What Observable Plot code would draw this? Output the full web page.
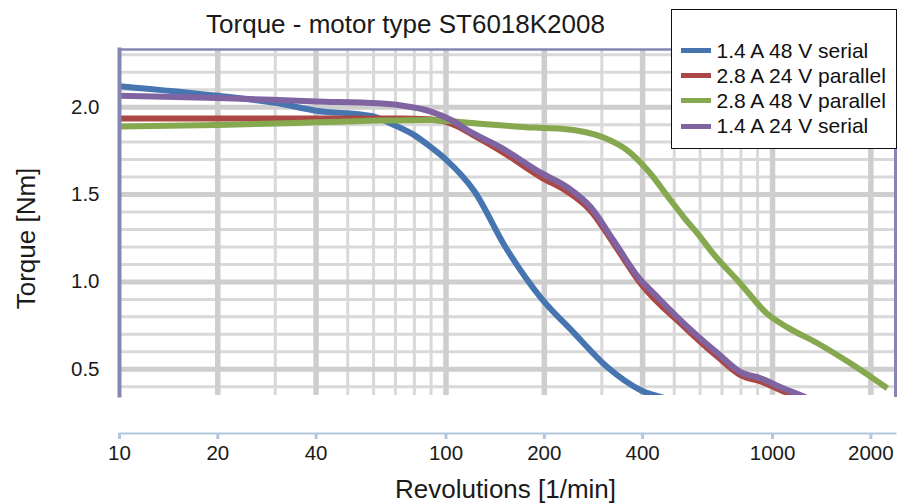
<!DOCTYPE html>
<html><head><meta charset="utf-8">
<script src="https://cdn.jsdelivr.net/npm/d3@7"></script>
<script src="https://cdn.jsdelivr.net/npm/@observablehq/plot@0.6"></script>
<style>
body{margin:0;background:#fff;font-family:"Liberation Sans",Arial,sans-serif;}
#wrap{position:relative;width:898px;height:504px;}
#legend{position:absolute;left:671px;top:9px;width:226px;height:140px;border:1.5px solid #111;background:#fff;box-sizing:border-box;}
.row{position:absolute;left:0;height:25px;display:flex;align-items:center;font-size:21px;color:#111;white-space:nowrap;}
.sw{width:30px;height:5px;margin-left:8.5px;margin-right:6px;}
</style></head><body><div id="wrap"><div id="legend"></div></div>
<script>
// ---- data ----
const title = "Torque - motor type ST6018K2008";
const xLabel = "Revolutions [1/min]";
const yLabel = "Torque [Nm]";
const seriesNames = ["1.4 A 48 V serial", "2.8 A 24 V parallel", "2.8 A 48 V parallel", "1.4 A 24 V serial"];
const seriesColors = ["#4675b0", "#ab4845", "#86a84e", "#8064a2"];

const rpmBlue    = [10, 20, 30, 40, 59, 69, 80, 90, 100, 122, 152, 195, 246, 313, 395, 480];
const torqueBlue = [2.12, 2.065, 2.025, 1.98, 1.95, 1.90, 1.84, 1.77, 1.70, 1.52, 1.20, 0.91, 0.71, 0.51, 0.38, 0.33];

const rpmRed    = [10, 20, 40, 60, 80, 97, 107, 120, 147, 195, 236, 278, 326, 395, 535, 680, 800, 920, 1060, 1220, 1300];
const torqueRed = [1.935, 1.935, 1.935, 1.935, 1.934, 1.922, 1.895, 1.845, 1.75, 1.60, 1.515, 1.405, 1.22, 0.99, 0.745, 0.57, 0.465, 0.43, 0.38, 0.33, 0.30];

const rpmGreen    = [10, 20, 40, 62, 90, 117, 186, 225, 304, 360, 415, 488, 535, 603, 646, 798, 963, 1111, 1373, 1732, 2247];
const torqueGreen = [1.889, 1.898, 1.913, 1.923, 1.927, 1.911, 1.883, 1.877, 1.826, 1.751, 1.637, 1.466, 1.37, 1.254, 1.18, 0.99, 0.818, 0.74, 0.649, 0.534, 0.391];

const rpmPurple    = [10, 20, 40, 62, 73, 90, 104, 117, 147, 195, 236, 278, 326, 395, 424, 535, 680, 800, 920, 1060, 1220, 1300];
const torquePurple = [2.066, 2.053, 2.033, 2.022, 2.01, 1.975, 1.925, 1.866, 1.77, 1.625, 1.54, 1.426, 1.237, 1.009, 0.951, 0.763, 0.591, 0.483, 0.449, 0.397, 0.351, 0.33];

const xTicks = [10, 20, 40, 100, 200, 400, 1000, 2000];
const xMajorGrid = [20, 40, 100, 200, 400, 1000, 2000];
const xMinorGrid = [30, 50, 60, 70, 80, 90, 300, 500, 600, 700, 800, 900];
const yTicks = [0.5, 1.0, 1.5, 2.0];
const yMajorGrid = [0.5, 1.0, 1.5, 2.0];
const yMinorGrid = [0.4, 0.6, 0.7, 0.8, 0.9, 1.1, 1.2, 1.3, 1.4, 1.6, 1.7, 1.8, 1.9, 2.1, 2.2, 2.3];
const xDomain = [10, 2380];
const yDomain = [0.35, 2.33];

// ---- build ----
const rpms = [rpmBlue, rpmRed, rpmGreen, rpmPurple];
const torques = [torqueBlue, torqueRed, torqueGreen, torquePurple];
const tables = rpms.map((r, i) => r.map((v, j) => ({rpm: v, torque: torques[i][j]})));

const frameColor = "#8686b2";
const axisBlue = "#b3c7df";
const textColor = "#1a1a1a";

const lines = tables.map((t, i) => Plot.line(t, {
  x: "rpm", y: "torque", stroke: seriesColors[i], strokeWidth: 6,
  curve: "monotone-x", clip: true, strokeLinejoin: "round", strokeLinecap: "butt"
}));

const chart = Plot.plot({
  width: 898, height: 504,
  marginLeft: 119, marginRight: 3, marginTop: 49, marginBottom: 109,
  style: {fontFamily: "Liberation Sans, Arial, sans-serif", background: "#fff", overflow: "visible", color: textColor},
  x: {type: "log", domain: xDomain},
  y: {domain: yDomain},
  marks: [
    Plot.ruleY(yMinorGrid, {stroke: "#d9d9d9", strokeWidth: 3}),
    Plot.ruleX(xMinorGrid, {stroke: "#d9d9d9", strokeWidth: 3}),
    Plot.ruleY(yMajorGrid, {stroke: "#cecece", strokeWidth: 5}),
    Plot.ruleX(xMajorGrid, {stroke: "#cecece", strokeWidth: 5.5}),
    ...lines,
    Plot.frame({anchor: "left", stroke: frameColor, strokeWidth: 4}),
    Plot.frame({anchor: "top", stroke: frameColor, strokeWidth: 2.5}),
    Plot.frame({anchor: "right", stroke: frameColor, strokeWidth: 3}),
    Plot.axisY({ticks: yTicks, tickSize: 0, tickPadding: 20, tickFormat: d3.format(".1f"), fontSize: 20.5, fill: textColor, label: null}),
    Plot.axisX({ticks: xTicks, tickSize: 6, dy: 38, stroke: axisBlue, strokeWidth: 3, tickPadding: 6, fontSize: 20.5, fill: textColor, tickFormat: d => String(d), label: null}),
    Plot.frame({anchor: "bottom", dy: 38, stroke: axisBlue, strokeWidth: 2}),
    Plot.text([title], {frameAnchor: "top", textAnchor: "middle", lineAnchor: "middle", dx: -102, dy: -25, fontSize: 26, fill: textColor}),
    Plot.text([xLabel], {frameAnchor: "bottom", textAnchor: "middle", lineAnchor: "middle", dx: -2, dy: 94, fontSize: 26, fill: textColor}),
    Plot.text([yLabel], {frameAnchor: "left", textAnchor: "middle", lineAnchor: "middle", dx: -93, dy: 16, rotate: -90, fontSize: 26, fill: textColor})
  ]
});
const wrap = document.getElementById("wrap");
wrap.insertBefore(chart, wrap.firstChild);

const legend = document.getElementById("legend");
const rowCenters = [40.5, 65.5, 90.5, 116];
seriesNames.forEach((n, i) => {
  const row = document.createElement("div");
  row.className = "row";
  row.style.top = (rowCenters[i] - 12.5) + "px";
  const sw = document.createElement("div");
  sw.className = "sw";
  sw.style.background = seriesColors[i];
  const tx = document.createElement("span");
  tx.textContent = n;
  row.appendChild(sw); row.appendChild(tx);
  legend.appendChild(row);
});
</script></body></html>
